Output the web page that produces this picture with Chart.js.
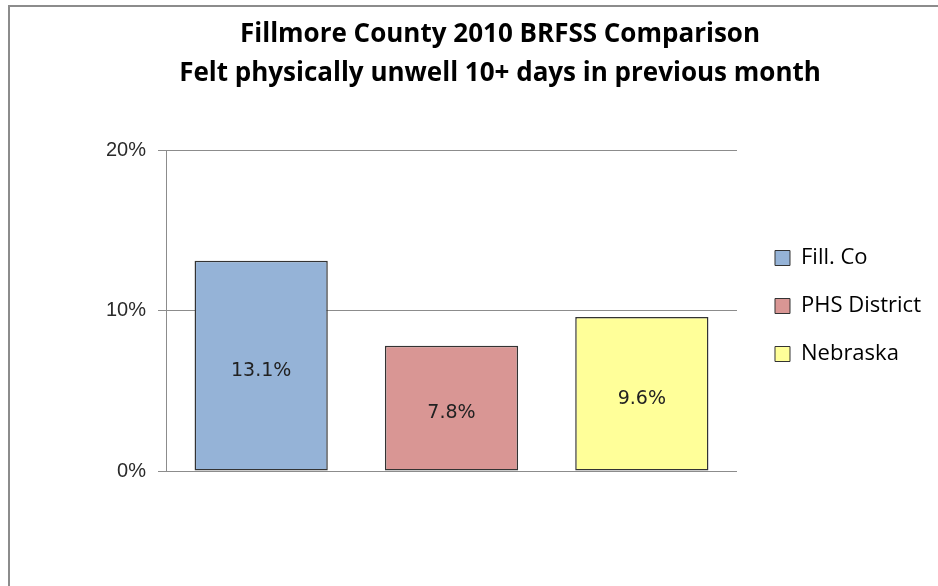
<!DOCTYPE html>
<html>
<head>
<meta charset="utf-8">
<script src="https://cdn.jsdelivr.net/npm/chart.js"></script>
<style>
    html, body { margin: 0; padding: 0; background: #fff; overflow: hidden; }
    #marco {
        position: absolute; left: 8px; top: 5px; width: 1000px; height: 700px;
        border-left: 2px solid #8c8c8c; border-top: 2px solid #8c8c8c;
    }
    #contenedor { position: absolute; left: 0; top: 0; width: 938px; height: 586px; }
</style>
</head>
<body>
<div id="marco"></div>
<div id="contenedor"><canvas id="myChart" width="938" height="586"></canvas></div>
<script>
// Datos del gráfico
const categorias = ['Fill. Co', 'PHS District', 'Nebraska'];
const valores = [13.1, 7.8, 9.6];
const colores = ['#95b3d7', '#d99694', '#ffff99'];
const ticksY = [0, 10, 20];
const titulo = ['Fillmore County 2010 BRFSS Comparison', 'Felt physically unwell 10+ days in previous month'];

// Plugin para escribir el valor en el centro de cada barra
const etiquetasBarras = {
    id: 'etiquetasBarras',
    afterDatasetsDraw(chart) {
        const ctx = chart.ctx;
        const meta = chart.getDatasetMeta(0);
        ctx.save();
        ctx.font = '19px "DejaVu Sans"';
        ctx.fillStyle = '#222';
        ctx.textAlign = 'center';
        ctx.textBaseline = 'middle';
        meta.data.forEach((bar, i) => {
            const y = (bar.y + bar.base) / 2 + 5;
            ctx.fillText(valores[i].toFixed(1) + '%', bar.x, y);
        });
        ctx.restore();
    }
};

// Mueve la leyenda un poco a la derecha y arriba, como en el original
const moverLeyenda = {
    id: 'moverLeyenda',
    afterLayout(chart) {
        const lg = chart.legend;
        if (!lg) return;
        lg.left += 12;
        lg.right += 12;
        lg.top -= 4.5;
        lg.bottom -= 4.5;
    }
};

const ctx = document.getElementById('myChart').getContext('2d');
const myChart = new Chart(ctx, {
    type: 'bar',
    data: {
        labels: categorias,
        datasets: [{
            label: 'Felt physically unwell',
            data: valores,
            backgroundColor: colores,
            borderColor: '#333',
            borderWidth: 1.5,
            borderSkipped: false,
            barPercentage: 0.7,
            categoryPercentage: 1
        }]
    },
    options: {
        responsive: false,
        animation: false,
        layout: {
            padding: { left: 81, right: 19, top: 0, bottom: 107 }
        },
        plugins: {
            title: {
                display: true,
                text: titulo,
                color: '#000',
                font: { family: 'Open Sans', size: 26, weight: 'bold', lineHeight: 1.5 },
                padding: { top: 15.5, bottom: 56.5 }
            },
            legend: {
                position: 'right',
                fullSize: false,
                labels: {
                    boxWidth: 15,
                    boxHeight: 15,
                    padding: 26,
                    color: '#000',
                    font: { family: 'Open Sans', size: 22 },
                    generateLabels: function (chart) {
                        return categorias.map((c, i) => ({
                            text: c,
                            fillStyle: colores[i],
                            strokeStyle: '#333',
                            lineWidth: 1,
                            hidden: false,
                            index: i
                        }));
                    }
                }
            },
            tooltip: { enabled: false }
        },
        scales: {
            x: {
                grid: { display: false },
                border: { display: false },
                ticks: { display: false }
            },
            y: {
                min: 0,
                max: 20,
                afterBuildTicks: function (axis) {
                    axis.ticks = ticksY.map(v => ({ value: v }));
                },
                afterFit: function (axis) {
                    axis.width = 85; // el eje queda en x = 166
                },
                grid: { color: '#8c8c8c', tickLength: 8, lineWidth: 1 },
                border: { display: true, color: '#8c8c8c' },
                ticks: {
                    padding: 12,
                    color: '#2a2a2a',
                    font: { family: 'Liberation Sans', size: 20 },
                    callback: v => v + '%'
                }
            }
        }
    },
    plugins: [etiquetasBarras, moverLeyenda]
});
</script>
</body>
</html>
